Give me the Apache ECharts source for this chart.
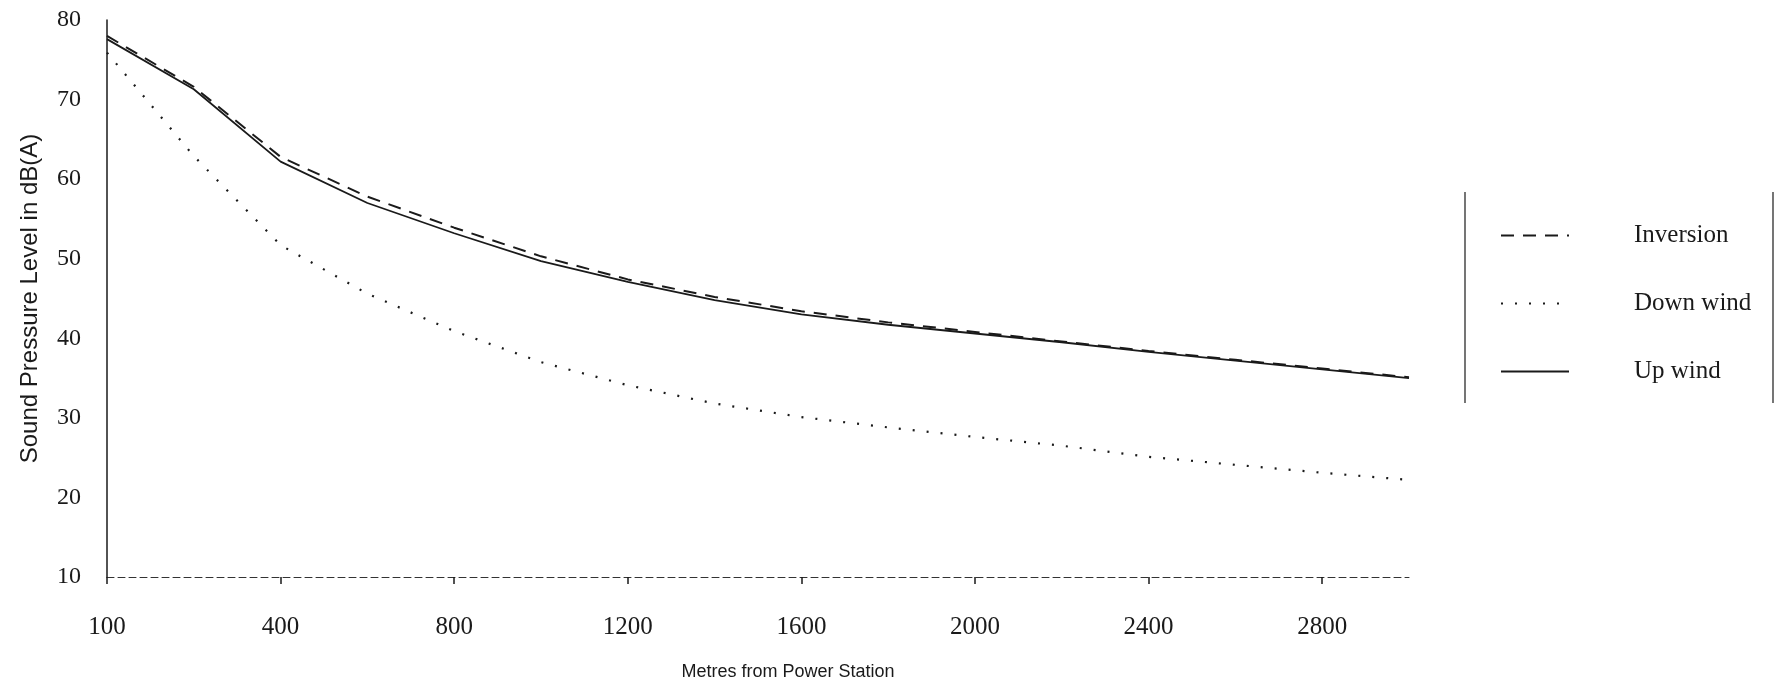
<!DOCTYPE html>
<html><head><meta charset="utf-8">
<script src="https://cdn.jsdelivr.net/npm/echarts@6/dist/echarts.min.js"></script>
<style>html,body{margin:0;padding:0;background:#fff}#c{width:1775px;height:690px}</style>
</head><body><div id="c"></div>
<script>
// Distance categories (metres)
const categories = ['100','200','400','600','800','1000','1200','1400','1600','1800','2000','2200','2400','2600','2800','3000'];
// Sound pressure level in dB(A)
const inversion = [78.0, 71.6, 62.8, 57.8, 53.9, 50.3, 47.4, 45.2, 43.4, 42.0, 40.8, 39.6, 38.4, 37.3, 36.2, 35.1];
const downWind  = [75.9, 62.9, 51.7, 45.6, 40.9, 37.0, 34.1, 31.8, 30.1, 28.8, 27.6, 26.5, 25.1, 24.1, 23.1, 22.2];
const upWind    = [77.6, 71.3, 62.2, 57.0, 53.2, 49.7, 47.1, 44.8, 43.0, 41.7, 40.6, 39.5, 38.3, 37.2, 36.1, 35.0];
const yMin = 10, yMax = 80, yStep = 10;
const seriesNames = ['Inversion', 'Down wind', 'Up wind'];

const ink = '#1a1a1a';
const chart = echarts.init(document.getElementById('c'), null, {renderer: 'canvas'});
chart.setOption({
  animation: false,
  backgroundColor: '#fff',
  grid: {left: 107, right: 366, top: 20, bottom: 113, containLabel: false},
  xAxis: {
    type: 'category', data: categories, boundaryGap: false,
    name: 'Metres from Power Station', nameLocation: 'middle', nameGap: 86,
    nameTextStyle: {fontFamily: 'Liberation Sans', fontSize: 18, color: ink, padding: [0, 0, 0, 60]},
    axisLine: {show: true, lineStyle: {color: '#333', width: 1, type: [7, 4]}},
    axisTick: {show: true, interval: 1, length: 7, lineStyle: {color: ink, width: 1.5}},
    axisLabel: {interval: 1, margin: 38, fontFamily: 'Liberation Serif', fontSize: 25, color: ink},
    splitLine: {show: false}
  },
  yAxis: {
    type: 'value', min: yMin, max: yMax, interval: yStep,
    name: 'Sound Pressure Level in dB(A)', nameLocation: 'middle', nameGap: 65,
    nameTextStyle: {fontFamily: 'Liberation Sans', fontSize: 24, color: ink},
    axisLine: {show: true, lineStyle: {color: ink, width: 1.5}},
    axisTick: {show: false},
    axisLabel: {margin: 26, fontFamily: 'Liberation Serif', fontSize: 24, color: ink},
    splitLine: {show: false}
  },
  legend: {
    orient: 'vertical', left: 1495, top: 218,
    itemWidth: 68, itemHeight: 14, itemGap: 43,
    data: seriesNames,
    itemStyle: {opacity: 0, color: 'rgba(0,0,0,0)', borderWidth: 0},
    textStyle: {fontFamily: 'Liberation Serif', fontSize: 25, color: ink, padding: [0, 0, 0, 60]}
  },
  graphic: [
    {type: 'line', shape: {x1: 1465, y1: 192, x2: 1465, y2: 403}, style: {stroke: ink, lineWidth: 1.2}},
    {type: 'line', shape: {x1: 1773, y1: 192, x2: 1773, y2: 403}, style: {stroke: ink, lineWidth: 1.2}}
  ],
  series: [
    {name: seriesNames[0], type: 'line', data: inversion, symbol: 'none', smooth: false,
     lineStyle: {color: ink, width: 2, type: [13, 9]}, itemStyle: {color: ink}},
    {name: seriesNames[1], type: 'line', data: downWind, symbol: 'none', smooth: false,
     lineStyle: {color: ink, width: 2.2, type: [2, 12]}, itemStyle: {color: ink}},
    {name: seriesNames[2], type: 'line', data: upWind, symbol: 'none', smooth: false,
     lineStyle: {color: ink, width: 1.8, type: 'solid'}, itemStyle: {color: ink}}
  ]
});
</script>
</body></html>
